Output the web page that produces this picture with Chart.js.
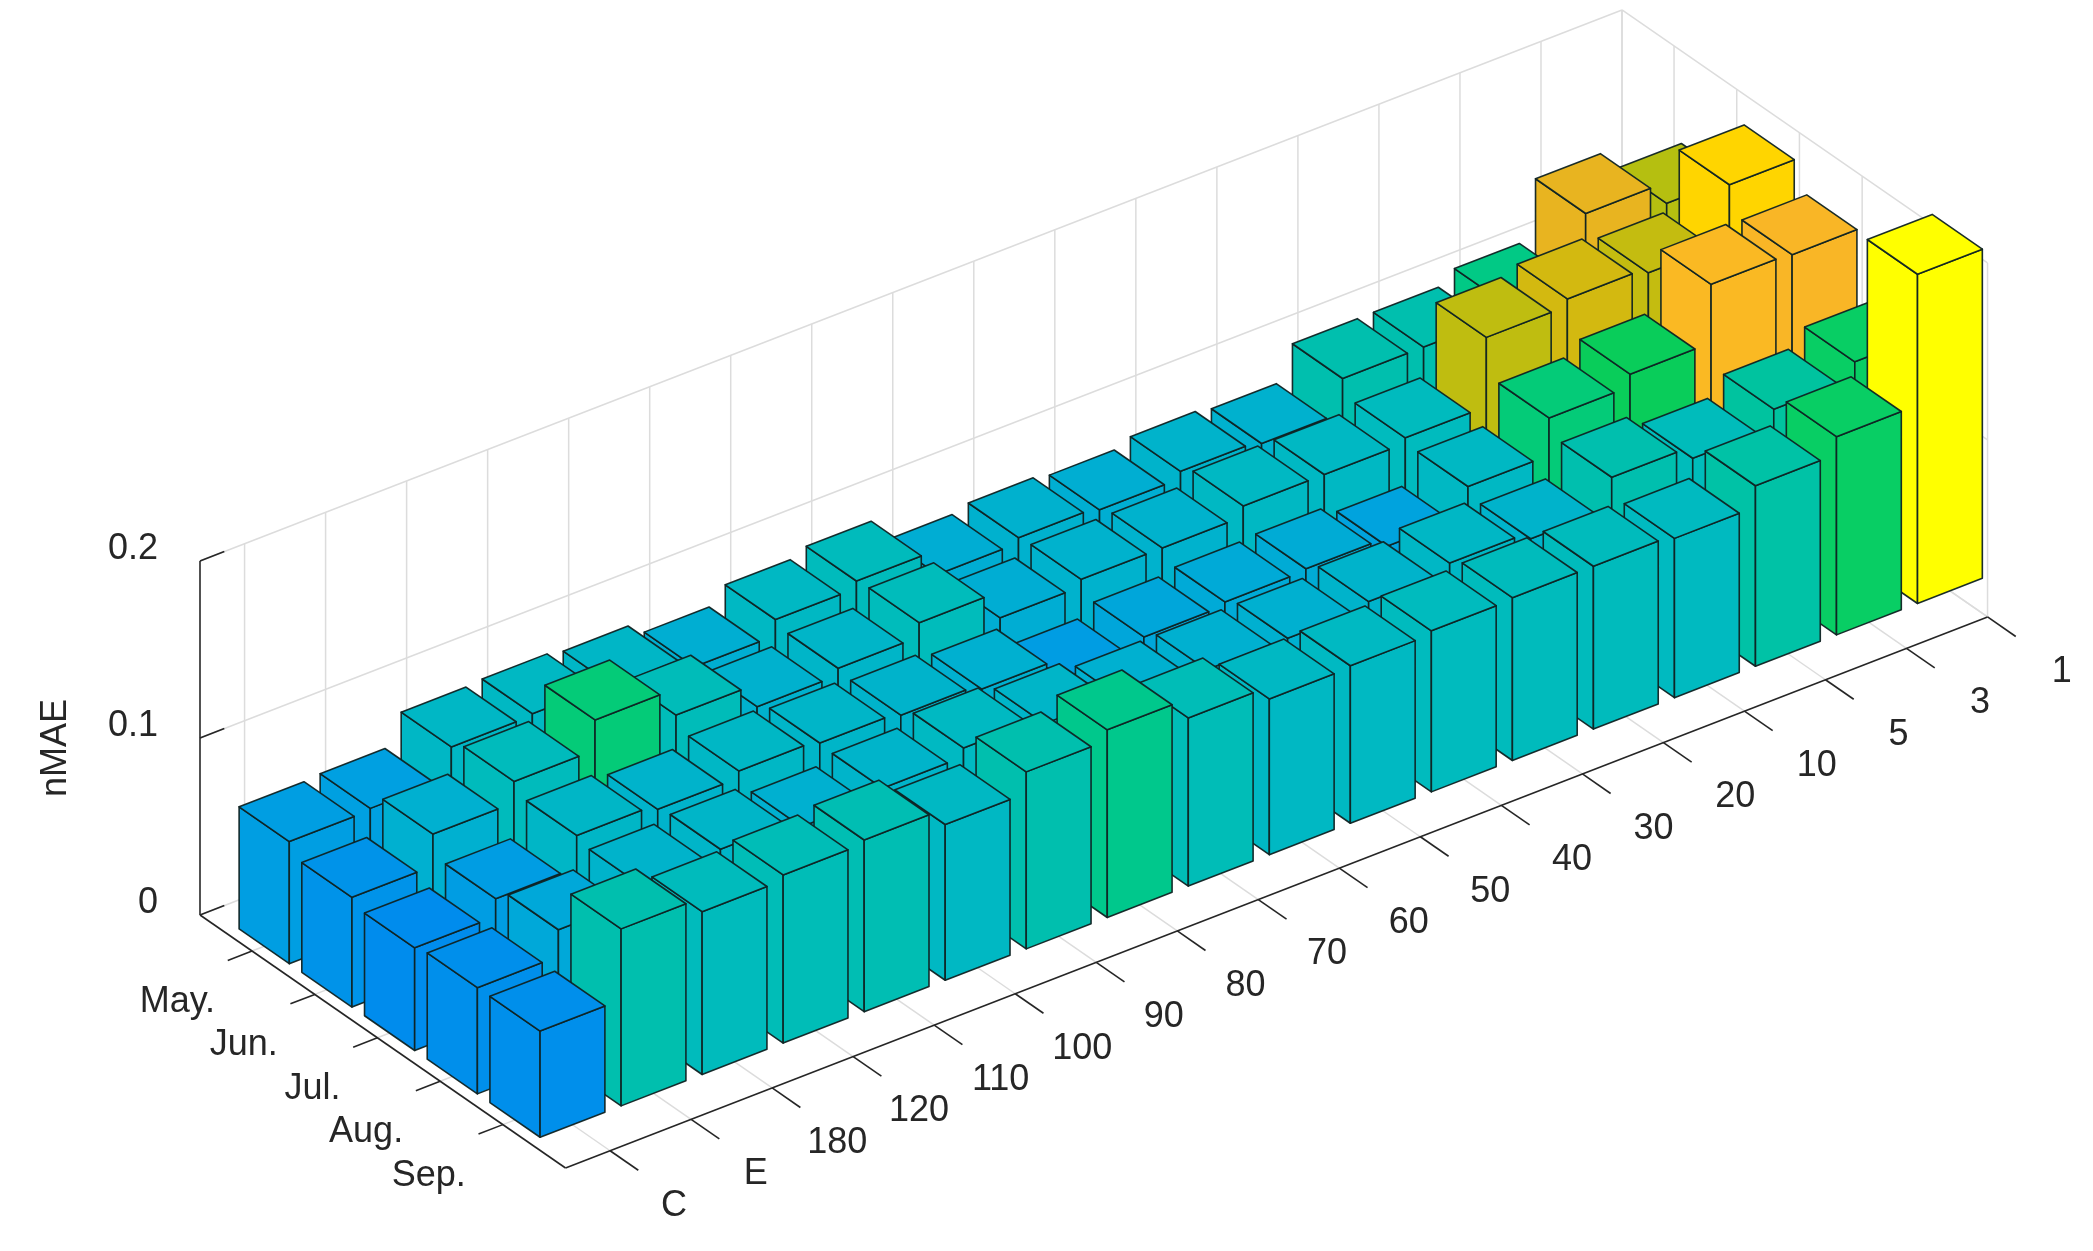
<!DOCTYPE html>
<html><head><meta charset="utf-8">
<script src="https://cdn.jsdelivr.net/npm/chart.js@4"></script>
<style>html,body{margin:0;padding:0;background:#fff;}canvas{display:block;}</style>
</head><body>
<canvas id="c" width="2093" height="1251"></canvas>
<script>
const categories = ['C','E','180','120','110','100','90','80','70','60','50','40','30','20','10','5','3','1'];
const months = ['May.','Jun.','Jul.','Aug.','Sep.'];
const nMAE_May = [0.069,0.070,0.087,0.088,0.086,0.079,0.088,0.092,0.078,0.081,0.079,0.083,0.081,0.100,0.100,0.107,0.140,0.128];
const nMAE_Jun = [0.062,0.080,0.092,0.109,0.094,0.081,0.085,0.093,0.078,0.082,0.082,0.088,0.088,0.091,0.130,0.134,0.131,0.163];
const nMAE_Jul = [0.058,0.068,0.086,0.083,0.087,0.085,0.083,0.080,0.068,0.074,0.076,0.077,0.072,0.088,0.109,0.116,0.149,0.148];
const nMAE_Aug = [0.060,0.075,0.083,0.085,0.080,0.084,0.089,0.085,0.080,0.080,0.080,0.083,0.087,0.083,0.100,0.093,0.103,0.112];
const nMAE_Sep = [0.060,0.100,0.092,0.095,0.097,0.088,0.100,0.106,0.095,0.088,0.089,0.091,0.092,0.092,0.090,0.102,0.112,0.186];
const zTicks = [0, 0.1, 0.2];
const zTickLabels = ['0', '0.1', '0.2'];
const series = [nMAE_May, nMAE_Jun, nMAE_Jul, nMAE_Aug, nMAE_Sep];

// colour stops (value -> colour)
const cStops = [[0.055,[0,135,240]],[0.07,[0,160,225]],[0.08,[0,176,208]],[0.09,[0,186,192]],[0.101,[0,192,172]],[0.106,[0,200,140]],[0.112,[8,206,100]],[0.118,[10,205,85]],[0.127,[176,192,16]],[0.135,[216,184,16]],[0.145,[248,176,48]],[0.16,[255,208,0]],[0.186,[255,255,0]]];
function colorFor(v){
  if(v<=cStops[0][0]) return 'rgb('+cStops[0][1]+')';
  for(let k=1;k<cStops.length;k++){
    if(v<=cStops[k][0]){
      const [v0,c0]=cStops[k-1],[v1,c1]=cStops[k];
      const t=(v-v0)/(v1-v0);
      return 'rgb('+c0.map((c,m)=>Math.round(c+(c1[m]-c)*t)).join(',')+')';
    }
  }
  return 'rgb('+cStops[cStops.length-1][1]+')';
}

const A0=-0.55, A1=17, B0=-0.83, B1=5;
const VX=62.7, VY=43.4, UY=-31.4;
const HW=0.4;
const FONT='36px "Liberation Sans", Arial, sans-serif';
const TXT='#262626';

const bar3d = {
  id:'bar3d',
  afterDatasetsDraw(chart){
    const ctx=chart.ctx, xs=chart.scales.x, ys=chart.scales.y;
    const P=(a,b,z)=>[xs.getPixelForValue(a)+(b-B0)*VX, ys.getPixelForValue(z)+(a-A0)*UY+(b-B0)*VY];
    const line=(p,q,col,w)=>{ctx.beginPath();ctx.moveTo(p[0],p[1]);ctx.lineTo(q[0],q[1]);ctx.strokeStyle=col;ctx.lineWidth=w;ctx.stroke();};
    const grid='#dcdcdc';
    ctx.save();
    for(let i=0;i<categories.length;i++) line(P(i,B0,0),P(i,B1,0),grid,1.5);
    for(let j=0;j<months.length;j++) line(P(A0,j,0),P(A1,j,0),grid,1.5);
    for(let i=0;i<categories.length;i++) line(P(i,B0,0),P(i,B0,0.2),grid,1.5);
    zTicks.forEach(z=>{ line(P(A0,B0,z),P(A1,B0,z),grid,1.5); line(P(A1,B0,z),P(A1,B1,z),grid,1.5); });
    for(let j=0;j<months.length;j++) line(P(A1,j,0),P(A1,j,0.2),grid,1.5);
    line(P(A1,B0,0),P(A1,B0,0.2),grid,1.5);
    line(P(A1,B1,0),P(A1,B1,0.2),grid,1.5);
    line(P(A0,B0,0),P(A0,B0,0.2),TXT,1.6);
    line(P(A0,B0,0),P(A0,B1,0),TXT,1.6);
    line(P(A0,B1,0),P(A1,B1,0),TXT,1.6);
    zTicks.forEach(z=>line(P(A0,B0,z),P(A0+0.3,B0,z),TXT,1.6));
    for(let j=0;j<months.length;j++) line(P(A0,j,0),P(A0-0.3,j,0),TXT,1.6);
    for(let i=0;i<categories.length;i++) line(P(i,B1,0),P(i,B1+0.45,0),TXT,1.6);
    for(let j=0;j<months.length;j++){
      for(let i=categories.length-1;i>=0;i--){
        const h=series[j][i];
        const col=colorFor(h);
        const poly=(pts)=>{ctx.beginPath();ctx.moveTo(pts[0][0],pts[0][1]);for(let k=1;k<pts.length;k++)ctx.lineTo(pts[k][0],pts[k][1]);ctx.closePath();ctx.fillStyle=col;ctx.fill();ctx.strokeStyle='rgba(15,35,35,0.95)';ctx.lineWidth=1.6;ctx.lineJoin='round';ctx.stroke();};
        const a0=i-HW,a1=i+HW,b0=j-HW,b1=j+HW;
        poly([P(a0,b0,0),P(a0,b1,0),P(a0,b1,h),P(a0,b0,h)]);
        poly([P(a0,b1,0),P(a1,b1,0),P(a1,b1,h),P(a0,b1,h)]);
        poly([P(a0,b0,h),P(a1,b0,h),P(a1,b1,h),P(a0,b1,h)]);
      }
    }
    ctx.font=FONT; ctx.fillStyle=TXT; ctx.textBaseline='middle';
    ctx.textAlign='right';
    zTicks.forEach((z,k)=>{const p=P(A0,B0,z);ctx.fillText(zTickLabels[k],p[0]-42,p[1]-12);});
    months.forEach((m,j)=>{const p=P(A0,j,0);ctx.fillText(m,p[0]-37,p[1]+51);});
    ctx.textAlign='center';
    categories.forEach((c,i)=>{const p=P(i,B1,0);ctx.fillText(c,p[0]+64+i*0.6,p[1]+55);});
    const pz=P(A0,B0,0.1);
    ctx.translate(56,pz[1]+10); ctx.rotate(-Math.PI/2); ctx.fillText('nMAE',0,0);
    ctx.restore();
  }
};

new Chart(document.getElementById('c'),{
  type:'scatter',
  data:{datasets:[{data:[]}]},
  options:{
    responsive:false, animation:false, devicePixelRatio:1,
    layout:{padding:{left:200,right:471,top:561,bottom:336}},
    plugins:{legend:{display:false},tooltip:{enabled:false}},
    scales:{
      x:{type:'linear',min:A0,max:A1,display:false},
      y:{type:'linear',min:0,max:0.2,display:false}
    }
  },
  plugins:[bar3d]
});
</script>
</body></html>
